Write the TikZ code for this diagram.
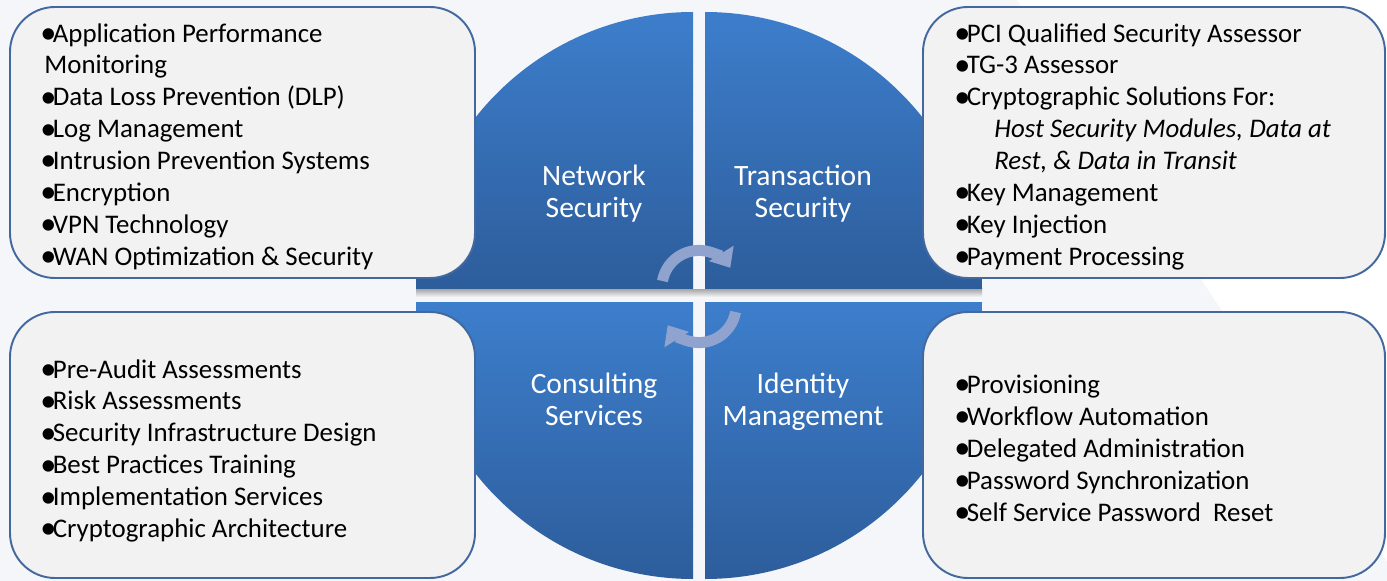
\documentclass[tikz,border=0pt]{standalone}
\usepackage{fontspec}
\setmainfont{Carlito}
\usetikzlibrary{arrows.meta}
\definecolor{quadlight}{RGB}{61,126,204}
\definecolor{quaddark}{RGB}{45,93,155}
\definecolor{boxline}{RGB}{66,104,158}
\definecolor{boxfill}{RGB}{242,242,242}
\definecolor{cyclecol}{RGB}{143,163,206}
\definecolor{bgtint}{RGB}{245,246,250}
\newcommand{\listbullet}{\kern-2.2pt\raisebox{-0.04em}{\scalebox{1.2}{\textbullet}}\kern-2.1pt}
\begin{document}
\begin{tikzpicture}[x=0.02cm, y=-0.02cm,
    quad/.style={top color=quadlight, bottom color=quaddark},
    listbox/.style={draw=boxline, fill=boxfill, line width=1.1pt, rounded corners=0.9cm},
    listtext/.style={anchor=north west, inner sep=0pt, align=left, font=\fontsize{15.3}{18.2}\selectfont},
    quadlabel/.style={text=white, inner sep=0pt, align=center, font=\fontsize{16.8}{18.2}\selectfont},
    cyclearrow/.style={draw=cyclecol, line width=0.22cm, -{Triangle[width=0.56cm, length=0.34cm]}}]
    \useasboundingbox (0,0) rectangle (1387,581);
    \fill[bgtint] (0,0) -- (1017,0) -- (1400,581) -- (0,581) -- cycle;
    \shade[quad] (693,289) -- (693,12) arc[start angle=270, end angle=180, radius=277] -- cycle;
    \shade[quad] (705,289) -- (705,12) arc[start angle=270, end angle=360, radius=277] -- cycle;
    \shade[quad] (693,302) -- (416,302) arc[start angle=180, end angle=90, radius=277] -- cycle;
    \shade[quad] (705,302) -- (982,302) arc[start angle=0, end angle=90, radius=277] -- cycle;
    \shade[top color=black!35, bottom color=bgtint] (416,289) rectangle (982,297);
    \draw[cyclearrow] (662.5,281) arc[start angle=190, end angle=328, radius=37];
    \draw[cyclearrow] (735.5,312) arc[start angle=10, end angle=148, radius=37];
    \node[quadlabel] (netlabel) at (594,194) {Network\\Security};
    \node[quadlabel] (txlabel) at (803,194) {Transaction\\Security};
    \node[quadlabel] (conlabel) at (594,399) {Consulting\\Services};
    \node[quadlabel] (idlabel) at (803,402) {Identity\\Management};
    \draw[listbox] (10,7) rectangle (475,278);
    \draw[listbox] (923,7) rectangle (1385,278);
    \draw[listbox] (10,312) rectangle (475,578);
    \draw[listbox] (923,312) rectangle (1385,578);
    \node[listtext] (netlist) at (44,23) {\listbullet Application Performance\\Monitoring\\\listbullet Data Loss Prevention (DLP)\\\listbullet Log Management\\\listbullet Intrusion Prevention Systems\\\listbullet Encryption\\\listbullet VPN Technology\\\listbullet WAN Optimization \& Security};
    \node[listtext] (txlist) at (958,23) {\listbullet PCI Qualified Security Assessor\\\listbullet TG-3 Assessor\\\listbullet Cryptographic Solutions For:\\\hspace*{0.72cm}\textit{Host Security Modules, Data at}\\\hspace*{0.72cm}\textit{Rest, \& Data in Transit}\\\listbullet Key Management\\\listbullet Key Injection\\\listbullet Payment Processing};
    \node[listtext] (conlist) at (44,359) {\listbullet Pre-Audit Assessments\\\listbullet Risk Assessments\\\listbullet Security Infrastructure Design\\\listbullet Best Practices Training\\\listbullet Implementation Services\\\listbullet Cryptographic Architecture};
    \node[listtext] (idlist) at (958,375) {\listbullet Provisioning\\\listbullet Workflow Automation\\\listbullet Delegated Administration\\\listbullet Password Synchronization\\\listbullet Self Service Password\ \ Reset};
\end{tikzpicture}
\end{document}
